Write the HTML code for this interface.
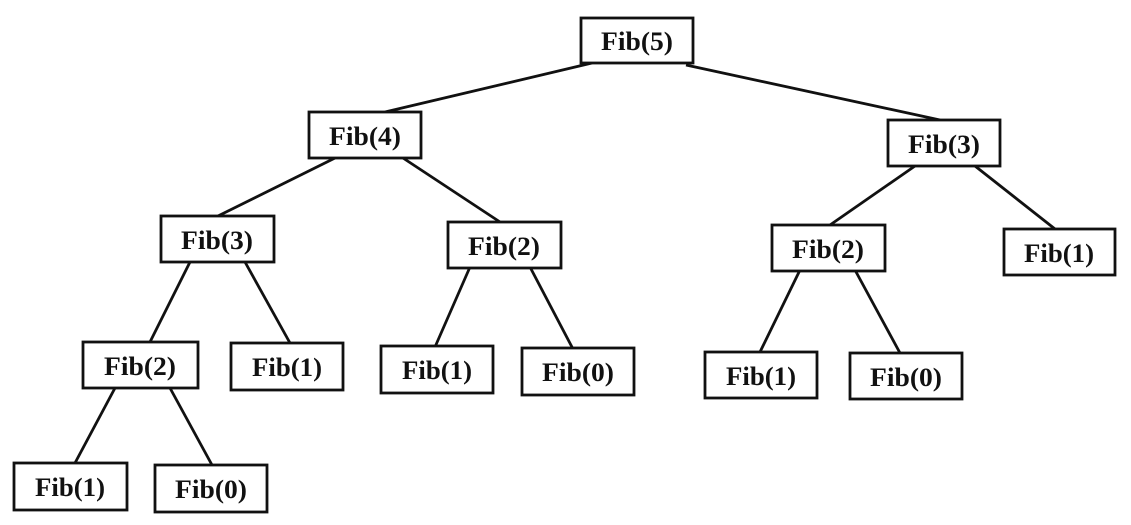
<!DOCTYPE html>
<html><head><style>
body{margin:0;background:#fff;}
svg{display:block}
text{font-family:"Liberation Serif",serif;font-weight:bold;font-size:26px;fill:#111}
rect{fill:#fff;stroke:#111;stroke-width:2.8}
line{stroke:#111;stroke-width:2.8}
</style></head><body>
<svg width="1131" height="525" viewBox="0 0 1131 525">
<line x1="592" y1="63" x2="385" y2="112"/>
<line x1="686" y1="65" x2="940" y2="120"/>
<line x1="335" y1="158" x2="218" y2="216"/>
<line x1="403" y1="158" x2="500" y2="222"/>
<line x1="190" y1="262" x2="150" y2="342"/>
<line x1="245" y1="262" x2="290" y2="343"/>
<line x1="115" y1="388" x2="75" y2="463"/>
<line x1="170" y1="388" x2="212" y2="465"/>
<line x1="470" y1="267" x2="435" y2="347"/>
<line x1="530" y1="267" x2="573" y2="349"/>
<line x1="915" y1="166" x2="830" y2="225"/>
<line x1="975" y1="166" x2="1055" y2="229"/>
<line x1="800" y1="270" x2="760" y2="352"/>
<line x1="855" y1="270" x2="900" y2="353"/>
<g>
<rect x="581" y="18" width="112" height="45"/><text x="637" y="50" text-anchor="middle" textLength="72" lengthAdjust="spacingAndGlyphs">Fib(5)</text>
<rect x="309" y="112" width="112" height="46"/><text x="365" y="145" text-anchor="middle" textLength="72" lengthAdjust="spacingAndGlyphs">Fib(4)</text>
<rect x="888" y="120" width="112" height="46"/><text x="944" y="153" text-anchor="middle" textLength="72" lengthAdjust="spacingAndGlyphs">Fib(3)</text>
<rect x="161" y="216" width="113" height="46"/><text x="217" y="249" text-anchor="middle" textLength="72" lengthAdjust="spacingAndGlyphs">Fib(3)</text>
<rect x="448" y="222" width="113" height="46"/><text x="504" y="255" text-anchor="middle" textLength="72" lengthAdjust="spacingAndGlyphs">Fib(2)</text>
<rect x="772" y="225" width="113" height="46"/><text x="828" y="258" text-anchor="middle" textLength="72" lengthAdjust="spacingAndGlyphs">Fib(2)</text>
<rect x="1004" y="229" width="111" height="46"/><text x="1059" y="262" text-anchor="middle" textLength="70" lengthAdjust="spacingAndGlyphs">Fib(1)</text>
<rect x="83" y="342" width="115" height="46"/><text x="140" y="375" text-anchor="middle" textLength="72" lengthAdjust="spacingAndGlyphs">Fib(2)</text>
<rect x="231" y="343" width="112" height="47"/><text x="287" y="376" text-anchor="middle" textLength="70" lengthAdjust="spacingAndGlyphs">Fib(1)</text>
<rect x="381" y="346" width="112" height="47"/><text x="437" y="379" text-anchor="middle" textLength="70" lengthAdjust="spacingAndGlyphs">Fib(1)</text>
<rect x="522" y="348" width="112" height="47"/><text x="578" y="381" text-anchor="middle" textLength="72" lengthAdjust="spacingAndGlyphs">Fib(0)</text>
<rect x="705" y="352" width="112" height="46"/><text x="761" y="385" text-anchor="middle" textLength="70" lengthAdjust="spacingAndGlyphs">Fib(1)</text>
<rect x="850" y="353" width="112" height="46"/><text x="906" y="386" text-anchor="middle" textLength="72" lengthAdjust="spacingAndGlyphs">Fib(0)</text>
<rect x="14" y="463" width="113" height="47"/><text x="70" y="496" text-anchor="middle" textLength="70" lengthAdjust="spacingAndGlyphs">Fib(1)</text>
<rect x="155" y="465" width="112" height="47"/><text x="211" y="498" text-anchor="middle" textLength="72" lengthAdjust="spacingAndGlyphs">Fib(0)</text>
</g>
</svg>
</body></html>
